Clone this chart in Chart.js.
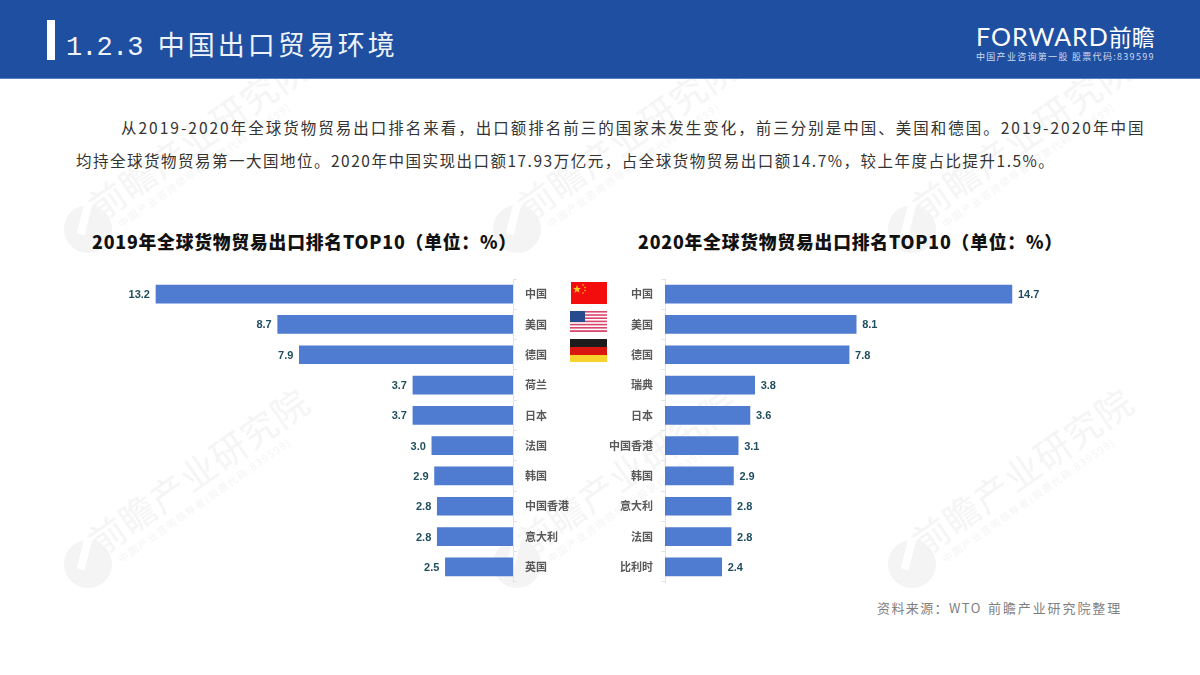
<!DOCTYPE html>
<html lang="zh">
<head>
<meta charset="utf-8">
<title>1.2.3 中国出口贸易环境</title>
<script src="https://cdn.jsdelivr.net/npm/chart.js@4/dist/chart.umd.min.js"></script>
<style>
  /* narrow latin next to the CJK glyphs, like the original slide font */
  @font-face { font-family: HalfLatin; src: local("Liberation Sans Narrow"); unicode-range: U+0-7F; size-adjust: 108%; font-weight: 400; }
  @font-face { font-family: HalfLatin; src: local("Liberation Sans Narrow Bold"); unicode-range: U+0-7F; size-adjust: 108%; font-weight: 700 900; }
  * { margin: 0; padding: 0; box-sizing: border-box; }
  html, body { width: 1200px; height: 675px; overflow: hidden; background: #fff; font-family: HalfLatin, "Noto Sans CJK SC", sans-serif; }
  .abs { position: absolute; white-space: pre; }
  #header { left: 0; top: 0; width: 1200px; height: 79px; background: #1f4fa1; border-bottom: 1px solid #5a80bd; }
  #mark { left: 47px; top: 20px; width: 8px; height: 40px; background: #fff; }
  #heading { left: 66px; top: 24px; color: #eef2f9; font-size: 27px; line-height: 40px; letter-spacing: 3px; }
  #heading span { font-family: "Liberation Mono", monospace; letter-spacing: -0.9px; }
  #brand { left: 976px; top: 20px; color: #fff; font-family: Lato, sans-serif; font-size: 25px; line-height: 32px; letter-spacing: 1px; }
  #brand span { font-family: "Noto Sans CJK SC", sans-serif; font-size: 23px; letter-spacing: 0; }
  #brand-sub { left: 976px; top: 50px; color: #cfdaee; font-size: 9px; line-height: 14px; letter-spacing: 1.3px; }
  .para { color: #333; font-size: 15.5px; line-height: 22px; }
  .chart-title { color: #111; font-size: 17.8px; line-height: 26px; font-weight: 900; letter-spacing: .8px; }
  .source { top: 598px; color: #7f7f7f; font-size: 13px; line-height: 20px; }
  canvas { position: absolute; }
  .wm { color: #f5f5f5; font-size: 36px; line-height: 44px; transform: rotate(-35deg); transform-origin: left bottom; letter-spacing: 1px; }
  .wm small { position: absolute; left: 14px; top: 44px; font-size: 10px; line-height: 14px; letter-spacing: 1.6px; }
  .wm-logo { width: 48px; height: 48px; border-radius: 50%; background: #f4f4f4; overflow: hidden; }
  .wm-logo i { position: absolute; left: 17px; top: -6px; width: 8px; height: 36px; background: #fff; transform: rotate(14deg); }
  svg { position: absolute; }
</style>
</head>
<body>
<div id="watermarks"></div>

<div class="abs" id="header"></div>
<div class="abs" id="mark"></div>
<div class="abs" id="heading"><span>1.2.3 </span>中国出口贸易环境</div>
<div class="abs" id="brand">FORWARD<span>前瞻</span></div>
<div class="abs" id="brand-sub">中国产业咨询第一股 股票代码:839599</div>

<div class="abs para" style="left:121px;top:116px;letter-spacing:2px">从2019-2020年全球货物贸易出口排名来看&#xFF0C;出口额排名前三的国家未发生变化&#xFF0C;前三分别是中国、美国和德国。2019-2020年中国</div>
<div class="abs para" style="left:76px;top:149px;letter-spacing:1.5px">均持全球货物贸易第一大国地位。2020年中国实现出口额17.93万亿元&#xFF0C;占全球货物贸易出口额14.7%&#xFF0C;较上年度占比提升1.5%。</div>

<div class="abs chart-title" style="left:92px;top:228px">2019年全球货物贸易出口排名TOP10&#xFF08;单位&#xFF1A;%&#xFF09;</div>
<div class="abs chart-title" style="left:638px;top:228px">2020年全球货物贸易出口排名TOP10&#xFF08;单位&#xFF1A;%&#xFF09;</div>

<canvas id="chart2019" style="left:60px;top:270px"></canvas>
<canvas id="chart2020" style="left:600px;top:270px"></canvas>

<!-- flags -->
<svg style="left:571px;top:282px" width="36" height="22" viewBox="0 0 36 22">
  <rect width="36" height="22" fill="#f40d0d"/>
  <polygon points="6,3 7,6 10,6 7.6,7.8 8.5,10.8 6,9 3.5,10.8 4.4,7.8 2,6 5,6" fill="#ffd21f"/>
  <circle cx="12" cy="3" r=".8" fill="#ffd21f"/><circle cx="14" cy="5.5" r=".8" fill="#ffd21f"/>
  <circle cx="14" cy="8.5" r=".8" fill="#ffd21f"/><circle cx="12" cy="11" r=".8" fill="#ffd21f"/>
</svg>
<svg style="left:570px;top:311px" width="37" height="21" viewBox="0 0 37 21">
  <rect width="37" height="21" fill="#fff"/>
  <g fill="#d9466b">
    <rect y="0" width="37" height="1.6"/><rect y="3.2" width="37" height="1.6"/><rect y="6.4" width="37" height="1.6"/>
    <rect y="9.6" width="37" height="1.6"/><rect y="12.8" width="37" height="1.6"/><rect y="16" width="37" height="1.6"/>
    <rect y="19.2" width="37" height="1.8"/>
  </g>
  <rect width="15" height="11" fill="#274b8c"/>
</svg>
<svg style="left:570px;top:339px" width="37" height="23" viewBox="0 0 37 23">
  <rect width="37" height="8" y="0" fill="#1c1c1c"/>
  <rect width="37" height="8" y="8" fill="#d9160f"/>
  <rect width="37" height="7" y="16" fill="#f8d22c"/>
</svg>

<div class="abs source" style="left:877px;letter-spacing:1.4px">资料来源&#xFF1A;WTO</div>
<div class="abs source" style="left:988px;letter-spacing:1.9px">前瞻产业研究院整理</div>

<script>
// left panel
const categories2019 = ['中国', '美国', '德国', '荷兰', '日本', '法国', '韩国', '中国香港', '意大利', '英国'];
const values2019 = [13.2, 8.7, 7.9, 3.7, 3.7, 3.0, 2.9, 2.8, 2.8, 2.5];

// right panel
const categories2020 = ['中国', '美国', '德国', '瑞典', '日本', '中国香港', '韩国', '意大利', '法国', '比利时'];
const values2020 = [14.7, 8.1, 7.8, 3.8, 3.6, 3.1, 2.9, 2.8, 2.8, 2.4];

const BAR_COLOR = '#4f7bd0';
const AXIS_COLOR = '#e3e3e3';
const CJK_FONT = '"Noto Sans CJK SC", sans-serif';

// watermark grid behind everything
const watermarkSpots = [[88, 229], [517, 229], [912, 229], [88, 564], [517, 564], [912, 564]];
const holder = document.getElementById('watermarks');
watermarkSpots.forEach(([x, y]) => {
  const logo = document.createElement('div');
  logo.className = 'abs wm-logo';
  logo.style.left = (x - 24) + 'px';
  logo.style.top = (y - 24) + 'px';
  logo.innerHTML = '<i></i>';
  holder.appendChild(logo);

  const text = document.createElement('div');
  text.className = 'abs wm';
  text.style.left = (x + 16) + 'px';
  text.style.top = (y - 46) + 'px';
  text.innerHTML = '前瞻产业研究院<small>中国产业咨询领导者(股票代码:839599)</small>';
  holder.appendChild(text);
});

// value labels at the end of each bar, no datalabels plugin in the sandbox
const valueLabels = {
  id: 'valueLabels',
  afterDatasetsDraw(chart) {
    const ctx = chart.ctx;
    const side = chart.options.labelSide;
    const meta = chart.getDatasetMeta(0);
    ctx.save();
    ctx.font = 'bold 11px "Liberation Sans", sans-serif';
    ctx.fillStyle = '#1f4e5f';
    ctx.textBaseline = 'middle';
    ctx.textAlign = side === 'left' ? 'right' : 'left';
    meta.data.forEach((bar, i) => {
      const label = chart.data.datasets[0].data[i].toFixed(1);
      ctx.fillText(label, bar.x + (side === 'left' ? -6 : 6), bar.y + 1);
    });
    ctx.restore();
  }
};

function createBarChart(id, labels, data, opts) {
  const canvas = document.getElementById(id);
  canvas.style.width = opts.width + 'px';
  canvas.style.height = '320px';
  canvas.width = opts.width;
  canvas.height = 320;

  return new Chart(canvas.getContext('2d'), {
    type: 'bar',
    data: {
      labels: labels,
      datasets: [{
        data: data,
        backgroundColor: BAR_COLOR,
        barThickness: 18,
        borderWidth: 0
      }]
    },
    plugins: [valueLabels],
    options: {
      indexAxis: 'y',
      responsive: false,
      animation: false,
      labelSide: opts.labelSide,
      layout: { padding: opts.padding },
      scales: {
        x: {
          display: false,
          min: 0,
          max: opts.max,
          reverse: opts.reverse
        },
        y: {
          position: opts.axisPosition,
          afterFit: (scale) => {
            scale.width = opts.axisWidth;
            // the label half-height would otherwise shrink the plot area
            scale.paddingTop = 0;
            scale.paddingBottom = 0;
          },
          grid: {
            drawOnChartArea: false,
            color: AXIS_COLOR,
            tickLength: 4
          },
          border: { color: AXIS_COLOR },
          ticks: {
            color: '#595959',
            font: { family: CJK_FONT, size: 11, weight: 'bold' },
            crossAlign: 'near',
            padding: 8,
            autoSkip: false,
            maxRotation: 0
          }
        }
      },
      plugins: {
        legend: { display: false },
        tooltip: { enabled: false }
      }
    }
  });
}

// 27.05 px per unit, baseline at x=513
createBarChart('chart2019', categories2019, values2019, {
  width: 540,
  max: 15,
  reverse: true,
  axisPosition: 'right',
  axisWidth: 87,
  labelSide: 'left',
  padding: { left: 47.3, top: 9, bottom: 8 }
});

// 23.6 px per unit, baseline at x=665
createBarChart('chart2020', categories2020, values2020, {
  width: 540,
  max: 16,
  reverse: false,
  axisPosition: 'left',
  axisWidth: 65,
  labelSide: 'right',
  padding: { right: 97.4, top: 9, bottom: 8 }
});
</script>
</body>
</html>
